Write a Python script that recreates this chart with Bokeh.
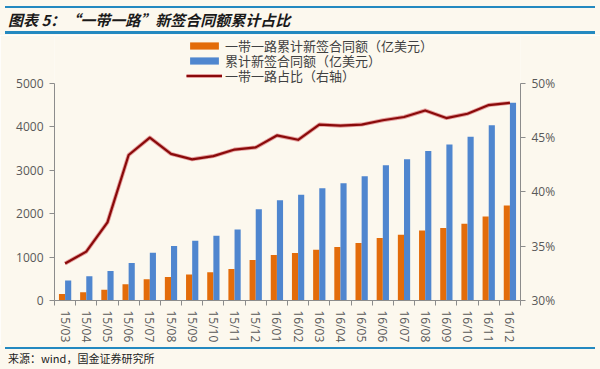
from bokeh.plotting import figure
from bokeh.models import (Range1d, LinearAxis, FixedTicker, PrintfTickFormatter,
                          Legend, LegendItem, Div, ColumnDataSource)
from bokeh.layouts import column
from bokeh.transform import dodge
from bokeh.embed import file_html
from bokeh.resources import INLINE

months = ["15/03", "15/04", "15/05", "15/06", "15/07", "15/08", "15/09", "15/10",
          "15/11", "15/12", "16/01", "16/02", "16/03", "16/04", "16/05", "16/06",
          "16/07", "16/08", "16/09", "16/10", "16/11", "16/12"]
belt_road = [150, 190, 250, 375, 490, 543, 596, 650, 727, 933, 1048, 1094,
             1170, 1231, 1323, 1438, 1514, 1614, 1667, 1766, 1935, 2187]
total = [459, 558, 680, 864, 1100, 1254, 1376, 1491, 1636, 2103, 2310, 2432,
         2585, 2700, 2860, 3112, 3250, 3441, 3594, 3770, 4037, 4550]
share = [33.4, 34.5, 37.2, 43.4, 45.0, 43.5, 43.0, 43.3, 43.9, 44.1, 45.2, 44.8,
         46.2, 46.1, 46.2, 46.6, 46.9, 47.5, 46.8, 47.2, 48.0, 48.2]
left_ticks = [0, 1000, 2000, 3000, 4000, 5000]
right_ticks = [30, 35, 40, 45, 50]

title_text = "图表 5：“一带一路”新签合同额累计占比"
source_text = "来源：wind，国金证券研究所"
legend_labels = ["一带一路累计新签合同额（亿美元）", "累计新签合同额（亿美元）", "一带一路占比（右轴）"]

BG = "#FCF8EE"
RULE = "#2489C0"
ORANGE = "#E36C0A"
BLUE = "#4F86CF"
LINE = "#8A0A0A"
AXIS = "#8C8C8C"
TXT = "#595959"
FONT = "Open Sans"
CJK = "Noto Sans CJK SC"

W = 600
n = len(months)
xs = [i + 0.5 for i in range(n)]
src = ColumnDataSource(dict(x=xs, belt=belt_road, total=total, share=share))

# frame extends above the axes' top value to leave room for the legend
AXIS_PX = 218      # pixels from 0 to 5000 / 30% to 50%
FRAME_PX = 265     # full frame height
l_lo, l_hi = left_ticks[0], left_ticks[-1]
r_lo, r_hi = right_ticks[0], right_ticks[-1]
l_top = l_lo + (l_hi - l_lo) * FRAME_PX / AXIS_PX
r_top = r_lo + (r_hi - r_lo) * FRAME_PX / AXIS_PX

p = figure(width=W, height=310, output_backend="svg", toolbar_location=None,
           x_range=Range1d(0, n), y_range=Range1d(l_lo, l_top),
           min_border_left=54, min_border_right=80, min_border_top=1, min_border_bottom=44,
           background_fill_color=BG, border_fill_color=BG, outline_line_color=None,
           margin=(0, 0, 0, 0))
p.extra_y_ranges = {"pct": Range1d(r_lo, r_top)}
p.xgrid.visible = False
p.ygrid.visible = False

r_or = p.vbar(x=dodge("x", -0.145, range=p.x_range), top="belt", width=0.29, bottom=0,
              source=src, fill_color=ORANGE, line_color=None)
r_bl = p.vbar(x=dodge("x", 0.145, range=p.x_range), top="total", width=0.29, bottom=0,
              source=src, fill_color=BLUE, line_color=None)
r_glow = p.line(x="x", y="share", source=src, y_range_name="pct",
                line_color="#C8303A", line_width=4, line_alpha=0.45, line_join="round")
r_ln = p.line(x="x", y="share", source=src, y_range_name="pct",
              line_color=LINE, line_width=2.2, line_join="round")

# axes
xa = p.xaxis[0]
xa.ticker = FixedTicker(ticks=xs, minor_ticks=list(range(n + 1)))
xa.major_label_overrides = {x: m for x, m in zip(xs, months)}
xa.major_label_orientation = "vertical"
xa.major_tick_out = 0
xa.major_tick_in = 0
xa.minor_tick_out = 5
xa.minor_tick_in = 0
xa.minor_tick_line_color = AXIS
xa.axis_line_color = AXIS
xa.major_label_text_font = FONT
xa.major_label_text_font_size = "12px"
xa.major_label_text_color = TXT
xa.major_label_standoff = 5

ya = p.yaxis[0]
ya.ticker = FixedTicker(ticks=left_ticks)
ya.bounds = (l_lo, l_hi)
ya.major_tick_out = 5
ya.major_tick_in = 0
ya.minor_tick_out = 0
ya.minor_tick_in = 0
ya.axis_line_color = AXIS
ya.major_tick_line_color = AXIS
ya.major_label_text_font = FONT
ya.major_label_text_font_size = "12px"
ya.major_label_text_color = TXT
ya.major_label_standoff = 6

ra = LinearAxis(y_range_name="pct", ticker=FixedTicker(ticks=right_ticks),
                formatter=PrintfTickFormatter(format="%d%%"), bounds=(r_lo, r_hi))
ra.major_tick_out = 5
ra.major_tick_in = 0
ra.minor_tick_out = 0
ra.minor_tick_in = 0
ra.axis_line_color = AXIS
ra.major_tick_line_color = AXIS
ra.major_label_text_font = FONT
ra.major_label_text_font_size = "12px"
ra.major_label_text_color = TXT
ra.major_label_standoff = 6
p.add_layout(ra, "right")

# one legend per row so that rows sit 15px apart like the reference
row_bottoms = [245, 230, 215]   # px above the frame bottom
for label, rends, yb in zip(legend_labels, [[r_or], [r_bl], [r_glow, r_ln]], row_bottoms):
    lg = Legend(items=[LegendItem(label=label, renderers=rends)],
                location=(132, yb), orientation="vertical",
                glyph_width=36, glyph_height=9, label_height=15, label_standoff=3,
                spacing=0, padding=0, margin=0,
                background_fill_alpha=0, border_line_alpha=0,
                label_text_font=CJK, label_text_font_size="13px",
                label_text_color="#404040")
    p.add_layout(lg, "center")

title_html = ('<div style="box-sizing:border-box;margin:6px 0 0 5px;width:590px;height:28px;'
              'border-top:2px solid %s;border-bottom:3px solid %s;background:%s;'
              'font-family:\'%s\';font-weight:bold;font-style:italic;font-size:15px;'
              'line-height:23px;color:#1a1a1a;padding:0 0 0 3px;white-space:nowrap;">%s</div>'
              % (RULE, RULE, BG, CJK, title_text))
source_html = ('<div style="box-sizing:border-box;margin:2px 0 0 5px;width:590px;height:21px;'
               'border-top:2px solid %s;background:%s;'
               'font-family:\'%s\';font-size:11px;line-height:18px;color:#222222;'
               'padding:0 0 0 3px;white-space:nowrap;">%s</div>'
               % (RULE, BG, CJK, source_text))
title_div = Div(text=title_html, width=W, height=35, margin=(0, 0, 0, 0),
                styles={"background-color": BG})
source_div = Div(text=source_html, width=W, height=24, margin=(0, 0, 0, 0),
                 styles={"background-color": BG})

layout = column(title_div, p, source_div, spacing=0, margin=(0, 0, 0, 0))
html = file_html(layout, INLINE)
html = html.replace("<body>", '<body style="background-color:%s">' % BG, 1)
open("out.html", "w").write(html)
